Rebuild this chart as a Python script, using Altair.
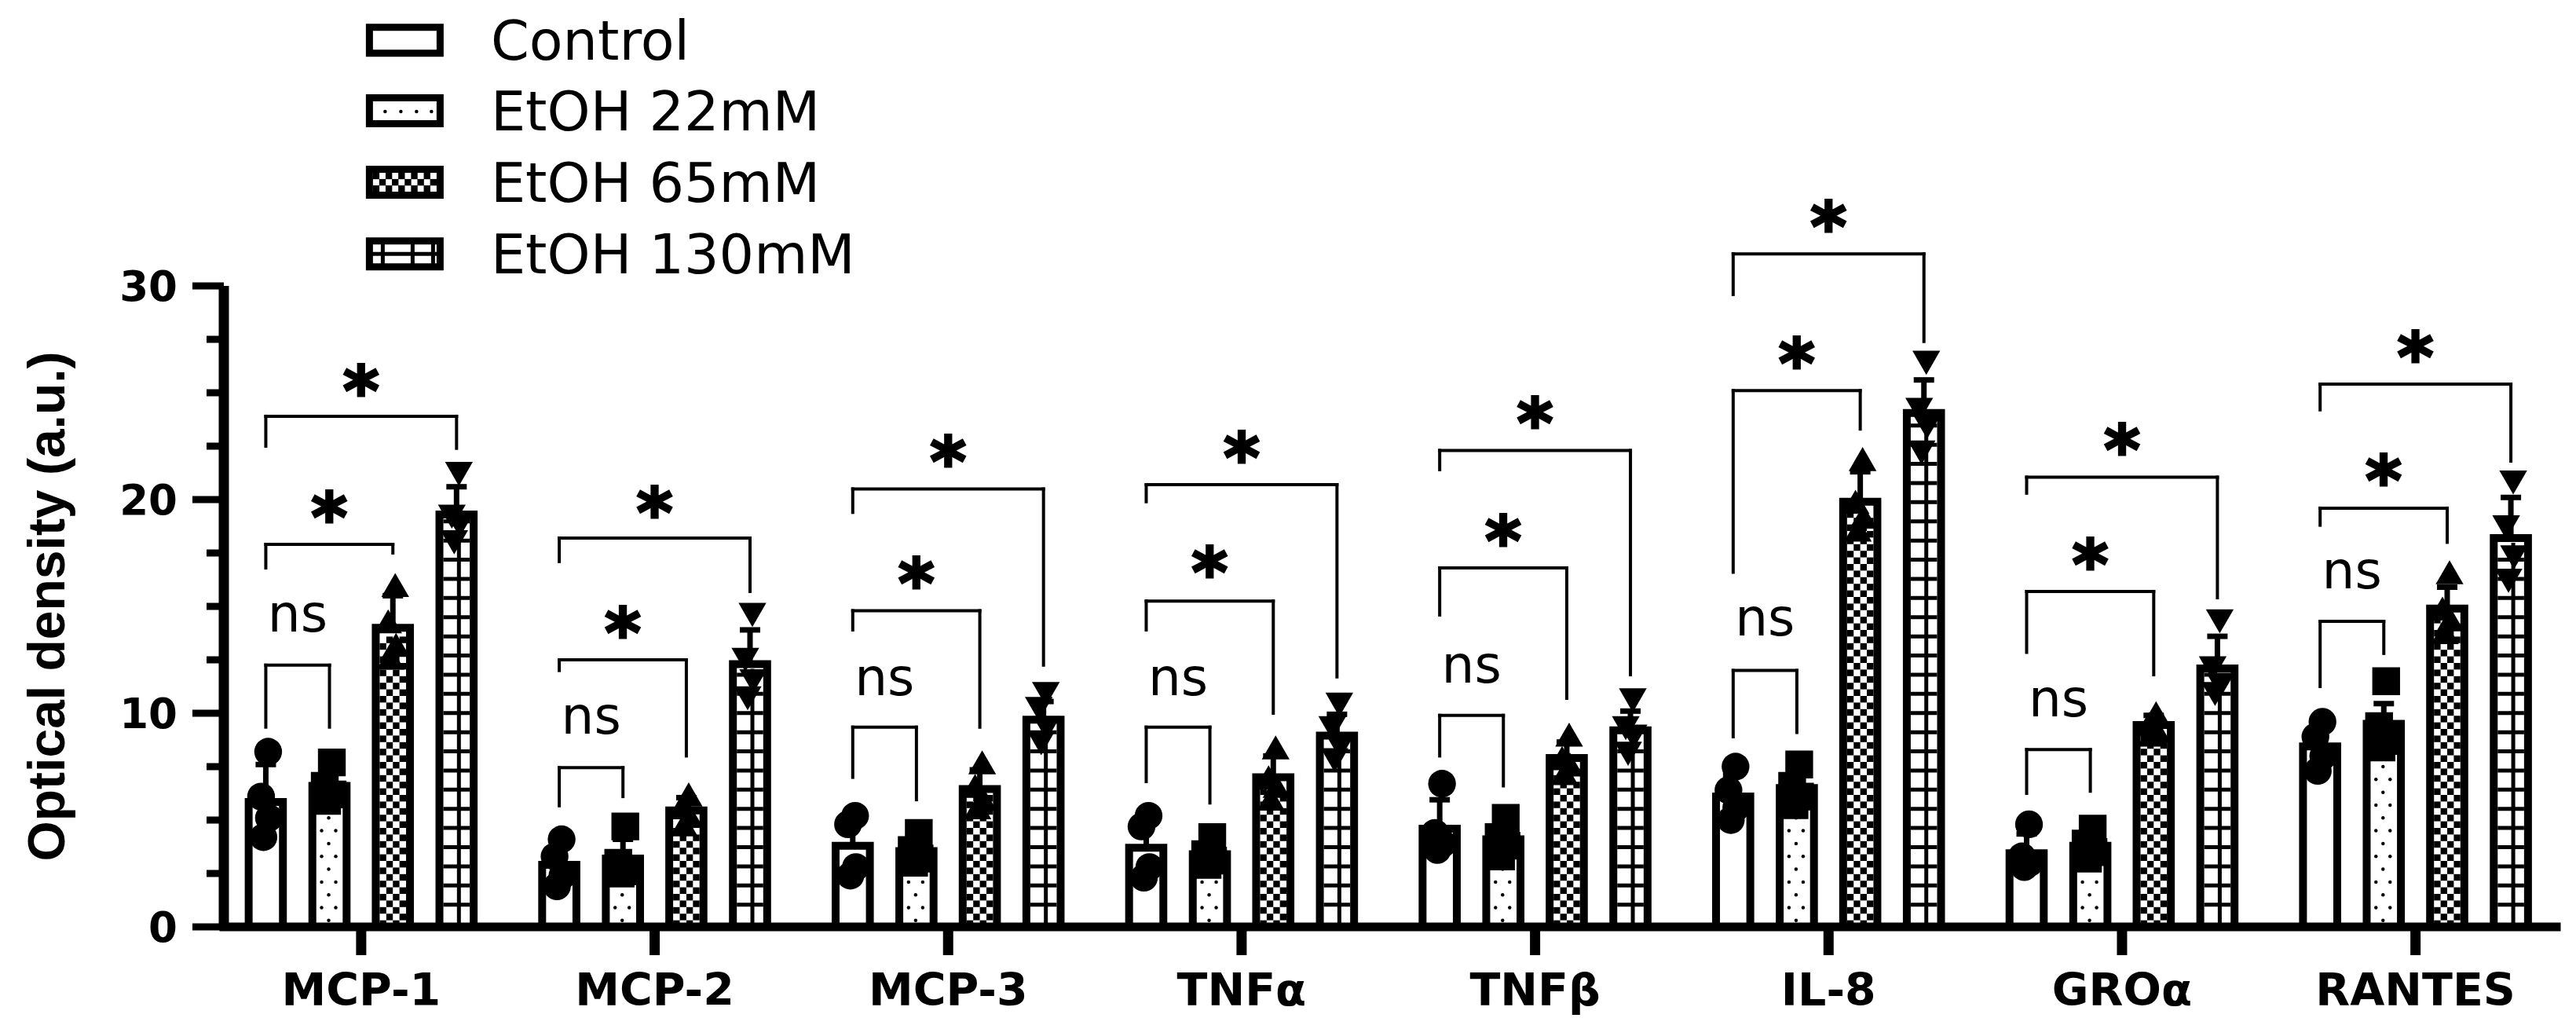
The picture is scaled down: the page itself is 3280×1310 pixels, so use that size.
import altair as alt
import pandas as pd

# ---------------- data ----------------
CYTOKINES = ["MCP-1", "MCP-2", "MCP-3", "TNFα", "TNFβ", "IL-8", "GROα", "RANTES"]
GROUPS = ["Control", "EtOH 22mM", "EtOH 65mM", "EtOH 130mM"]

MEAN_CONTROL = [5.85, 2.9, 3.8, 3.7, 4.6, 6.1, 3.45, 8.45]
MEAN_22 = [6.6, 3.2, 3.55, 3.4, 4.1, 6.5, 3.8, 9.5]
MEAN_65 = [14.0, 5.45, 6.45, 7.0, 7.9, 19.9, 9.45, 14.9]
MEAN_130 = [19.3, 12.3, 9.7, 8.95, 9.2, 24.05, 12.1, 18.2]

SD_CONTROL = [1.75, 1.0, 1.3, 1.3, 1.35, 1.0, 0.9, 0.95]
SD_22 = [0.75, 0.9, 0.6, 0.6, 0.8, 1.0, 0.6, 0.95]
SD_65 = [1.5, 0.6, 0.9, 1.0, 0.75, 1.4, 0.45, 1.0]
SD_130 = [1.3, 1.6, 0.85, 1.0, 0.9, 1.55, 1.5, 1.9]

PTS_CONTROL = [[8.2, 6.1, 5.1, 4.2], [4.1, 3.3, 2.4, 1.9], [5.2, 4.8, 2.8, 2.4], [5.2, 4.7, 2.8, 2.3],
               [6.7, 4.4, 3.9, 3.6], [7.5, 6.4, 5.6, 5.0], [4.8, 3.3, 3.0, 2.8], [9.6, 8.9, 8.0, 7.3]]
PTS_22 = [[7.7, 6.6, 6.2, 5.9], [4.7, 3.0, 2.6, 2.5], [4.4, 3.6, 3.2, 3.0], [4.2, 3.4, 3.1, 2.9],
          [5.1, 4.2, 3.8, 3.3], [7.6, 6.6, 6.1, 5.7], [4.6, 3.9, 3.5, 3.2], [11.5, 9.4, 8.7, 8.4]]
PTS_65 = [[16.0, 14.3, 13.2, 12.6], [6.2, 5.6, 5.2, 4.8], [7.7, 6.6, 6.0, 5.6], [8.4, 7.0, 6.6, 6.0],
          [9.0, 7.9, 7.6, 7.2], [21.9, 19.9, 19.2, 18.6], [10.0, 9.5, 9.2, 9.0], [16.6, 14.9, 14.4, 13.8]]
PTS_130 = [[21.2, 19.2, 18.8, 18.0], [14.6, 12.5, 11.5, 10.7], [10.9, 10.2, 9.3, 8.6], [10.4, 9.3, 8.4, 7.8],
           [10.6, 9.3, 8.9, 8.1], [26.4, 24.2, 23.4, 22.2], [14.3, 12.1, 11.3, 10.9], [20.8, 18.7, 17.3, 16.2]]

# significance brackets: Control vs 22mM / 65mM / 130mM
BR22_Y = [12.25, 7.45, 9.35, 9.35, 9.9, 12.0, 8.3, 14.3]
BR22_LEFT = [9.35, 5.67, 7.0, 6.8, 8.0, 8.9, 6.25, 11.25]
BR22_RIGHT = [9.35, 6.1, 5.95, 5.8, 6.6, 9.1, 6.35, 12.8]
BR22_LABEL_Y = [14.5, 9.7, 11.5, 11.5, 12.1, 14.3, 10.5, 16.5]
BR22_TEXT = ["ns", "ns", "ns", "ns", "ns", "ns", "ns", "ns"]

BR65_Y = [17.9, 12.5, 14.8, 15.25, 16.8, 25.1, 15.7, 19.6]
BR65_LEFT = [16.8, 12.0, 13.9, 13.9, 14.6, 16.6, 12.85, 18.8]
BR65_RIGHT = [17.5, 8.0, 9.35, 10.0, 10.7, 23.3, 11.8, 18.0]
BR65_LABEL_Y = [19.9, 14.5, 16.8, 17.3, 18.8, 27.1, 17.7, 21.6]
BR65_TEXT = ["*", "*", "*", "*", "*", "*", "*", "*"]

BR130_Y = [23.9, 18.2, 20.5, 20.7, 22.3, 31.5, 21.05, 25.4]
BR130_LEFT = [22.5, 17.1, 19.4, 19.9, 21.4, 29.6, 20.3, 24.2]
BR130_RIGHT = [22.4, 15.7, 12.25, 11.7, 11.8, 27.4, 15.4, 21.8]
BR130_LABEL_Y = [25.8, 20.1, 22.5, 22.7, 24.3, 33.5, 23.05, 27.4]
BR130_TEXT = ["*", "*", "*", "*", "*", "*", "*", "*"]

Y_TICKS = [0, 10, 20, 30]
Y_TICK_LABELS = ["0", "10", "20", "30"]
Y_MINOR = [2.5, 5, 7.5, 12.5, 15, 17.5, 22.5, 25, 27.5]
Y_TITLE = "Optical density (a.u.)"

# ---------------- layout / style ----------------
W, H = 2970, 816
X_DOM = [-0.468, 7.48]
Y_DOM = [0, 30]
PX_X = W / (X_DOM[1] - X_DOM[0])
PX_Y = H / (Y_DOM[1] - Y_DOM[0])


def ux(px):
    return px / PX_X


def uy(px):
    return px / PX_Y


BAR_OFFSETS = [-0.325, -0.108, 0.108, 0.325]
BAR_HALF = ux(21.8)
CAP_HALF = ux(13)
JITTER_PX = [3, -6, 4, -3]
SHAPES = ["circle", "square", "triangle-up", "triangle-down"]

# legend placement (data units of the same scales)
LEG_CX = ux(515.5 - 460)
LEG_HALF_W = ux(45)
LEG_HALF_H = uy(16.5)
LEG_ROW_Y = [41.5, 38.2, 34.85, 31.5]
LEG_TEXT_X = ux(625 - 460)

MEANS = [MEAN_CONTROL, MEAN_22, MEAN_65, MEAN_130]
SDS = [SD_CONTROL, SD_22, SD_65, SD_130]
PTS = [PTS_CONTROL, PTS_22, PTS_65, PTS_130]

# ---------------- tables ----------------
bar_rows, pt_rows, dot_rows, chk_rows, grid_rows = [], [], [], [], []
for k, cyt in enumerate(CYTOKINES):
    for g, grp in enumerate(GROUPS):
        cx = k + BAR_OFFSETS[g]
        m = MEANS[g][k]
        s = SDS[g][k]
        bar_rows.append(dict(cyt=cyt, grp=grp, cx=cx, x1=cx - BAR_HALF, x2=cx + BAR_HALF,
                             base=0.0, mean=m, top=m + s, c1=cx - CAP_HALF, c2=cx + CAP_HALF))
        for i, v in enumerate(PTS[g][k]):
            pt_rows.append(dict(grp=grp, x=cx + ux(JITTER_PX[i]), y=v))
        inner_top = m - uy(6)
        if g == 1:  # dotted
            r = 0
            while 0.3 + 0.6 * r < inner_top:
                offs = [-1] if r % 2 == 0 else [-10, 8]
                for o in offs:
                    dot_rows.append(dict(x=cx + ux(o), y=0.3 + 0.6 * r))
                r += 1
        elif g == 2:  # checker
            step = uy(8.4)
            r = 0
            while (r + 1) * step < inner_top:
                for c in range(4):
                    if (r + c) % 2 == 0:
                        chk_rows.append(dict(x=cx + ux((c - 1.5) * 8.4), y=(r + 0.5) * step))
                r += 1
        elif g == 3:  # grid
            r = 0
            while 1.04 + 0.897 * r < inner_top:
                yy = 1.04 + 0.897 * r
                grid_rows.append(dict(x=cx - ux(16.8), x2=cx + ux(16.8), y=yy, y2=yy))
                r += 1
            grid_rows.append(dict(x=cx + ux(3), x2=cx + ux(3), y=0.0, y2=inner_top))

# legend boxes and their patterns
leg_rows = []
for g, grp in enumerate(GROUPS):
    yc = LEG_ROW_Y[g]
    leg_rows.append(dict(grp=grp, x1=LEG_CX - LEG_HALF_W, x2=LEG_CX + LEG_HALF_W,
                         y1=yc - LEG_HALF_H, y2=yc + LEG_HALF_H, tx=LEG_TEXT_X, ty=yc))
    if g == 1:
        for o in [-25, -5, 15, 34]:
            dot_rows.append(dict(x=LEG_CX + ux(o), y=yc - uy(1)))
    elif g == 2:
        for r in range(3):
            for c in range(10):
                if (r + c) % 2 == 0:
                    chk_rows.append(dict(x=LEG_CX + ux((c - 4.5) * 8.1), y=yc + uy((r - 1) * 8.1)))
    elif g == 3:
        for o in [-28, 10, 36]:
            grid_rows.append(dict(x=LEG_CX + ux(o), x2=LEG_CX + ux(o),
                                  y=yc - LEG_HALF_H, y2=yc + LEG_HALF_H))
        grid_rows.append(dict(x=LEG_CX - LEG_HALF_W, x2=LEG_CX + LEG_HALF_W, y=yc, y2=yc))

bars_df = pd.DataFrame(bar_rows)
pts_df = pd.DataFrame(pt_rows)
dots_df = pd.DataFrame(dot_rows)
chk_df = pd.DataFrame(chk_rows)
grid_df = pd.DataFrame(grid_rows)
leg_df = pd.DataFrame(leg_rows)

seg_rows, lab_rows = [], []
BRACKETS = [
    (1, BR22_Y, BR22_LEFT, BR22_RIGHT, BR22_LABEL_Y, BR22_TEXT),
    (2, BR65_Y, BR65_LEFT, BR65_RIGHT, BR65_LABEL_Y, BR65_TEXT),
    (3, BR130_Y, BR130_LEFT, BR130_RIGHT, BR130_LABEL_Y, BR130_TEXT),
]
for gi, by, bl, br, ly, tx in BRACKETS:
    for k in range(len(CYTOKINES)):
        xl = k + BAR_OFFSETS[0]
        xr = k + BAR_OFFSETS[gi]
        seg_rows.append(dict(x=xl, x2=xr, y=by[k], y2=by[k]))
        seg_rows.append(dict(x=xl, x2=xl, y=bl[k], y2=by[k]))
        seg_rows.append(dict(x=xr, x2=xr, y=br[k], y2=by[k]))
        lab_rows.append(dict(x=(xl + xr) / 2, y=ly[k], t=tx[k]))
seg_df = pd.DataFrame(seg_rows)
lab_df = pd.DataFrame(lab_rows)
ns_df = lab_df[lab_df.t == "ns"]
star_df = lab_df[lab_df.t == "*"]

# axis tables
xcat_df = pd.DataFrame({"k": list(range(len(CYTOKINES))), "label": CYTOKINES})
ymaj_df = pd.DataFrame({"v": Y_TICKS, "label": Y_TICK_LABELS})
ymin_df = pd.DataFrame({"v": Y_MINOR})
xdom_df = pd.DataFrame({"x": [X_DOM[0]], "x2": [X_DOM[1]], "y": [Y_DOM[0]]})
ydom_df = pd.DataFrame({"x": [X_DOM[0]], "y": [Y_DOM[0]], "y2": [Y_DOM[1]]})
ytitle_df = pd.DataFrame({"t": [Y_TITLE]})

# ---------------- scales ----------------
xs = alt.Scale(domain=X_DOM, nice=False, zero=False)
ys = alt.Scale(domain=Y_DOM, nice=False, zero=False)


def X(f):
    return alt.X(f, type="quantitative", scale=xs, axis=None)


def Y(f):
    return alt.Y(f, type="quantitative", scale=ys, axis=None)


bars = alt.Chart(bars_df).mark_rect(fill="white", stroke="black", strokeWidth=10, strokeJoin="miter").encode(
    x=X("x1"), x2="x2", y=Y("base"), y2="mean")

leg_boxes = alt.Chart(leg_df).mark_rect(fill="white", stroke="black", strokeWidth=9, strokeJoin="miter").encode(
    x=X("x1"), x2="x2", y=Y("y1"), y2="y2")

dots = alt.Chart(dots_df).mark_circle(size=20, color="black", opacity=1).encode(x=X("x"), y=Y("y"))
checker = alt.Chart(chk_df).mark_square(size=70, color="black", opacity=1).encode(x=X("x"), y=Y("y"))
grid = alt.Chart(grid_df).mark_rule(color="black", strokeWidth=5).encode(x=X("x"), x2="x2", y=Y("y"), y2="y2")

err = alt.Chart(bars_df).mark_rule(color="black", strokeWidth=7).encode(x=X("cx"), y=Y("mean"), y2="top")
caps = alt.Chart(bars_df).mark_rule(color="black", strokeWidth=7).encode(x=X("c1"), x2="c2", y=Y("top"))

points = alt.Chart(pts_df).mark_point(filled=True, opacity=1, size=1250, color="black", strokeWidth=0).encode(
    x=X("x"), y=Y("y"),
    shape=alt.Shape("grp:N", scale=alt.Scale(domain=GROUPS, range=SHAPES), legend=None))

segs = alt.Chart(seg_df).mark_rule(color="black", strokeWidth=4, strokeCap="square").encode(
    x=X("x"), x2="x2", y=Y("y"), y2="y2")

ns_text = alt.Chart(ns_df).mark_text(font="DejaVu Sans", fontSize=66, color="black", align="center",
                                      baseline="alphabetic", dy=18).encode(x=X("x"), y=Y("y"), text="t:N")
star_text = alt.Chart(star_df).mark_text(font="DejaVu Sans", fontWeight="bold", fontSize=88, color="black",
                                          stroke="black", strokeWidth=3,
                                          align="center", baseline="alphabetic", dy=50).encode(
    x=X("x"), y=Y("y"), text="t:N")

leg_text = alt.Chart(leg_df).mark_text(font="DejaVu Sans", fontSize=70, color="black", align="left",
                                        baseline="alphabetic", dy=25).encode(x=X("tx"), y=Y("ty"), text="grp:N")

# ---- axes drawn as marks through the same scales ----
x_domain = alt.Chart(xdom_df).mark_rule(color="black", strokeWidth=11, strokeCap="square").encode(
    x=X("x"), x2="x2", y=Y("y"))
y_domain = alt.Chart(ydom_df).mark_rule(color="black", strokeWidth=13).encode(
    x=X("x"), y=Y("y"), y2="y2")
y_major = alt.Chart(ymaj_df).mark_rule(color="black", strokeWidth=9).encode(
    y=Y("v"), x=alt.value(-40), x2=alt.value(0))
y_minor = alt.Chart(ymin_df).mark_rule(color="black", strokeWidth=9).encode(
    y=Y("v"), x=alt.value(-22), x2=alt.value(0))
y_labels = alt.Chart(ymaj_df).mark_text(font="DejaVu Sans", fontWeight="bold", fontSize=53, color="black",
                                         align="right", baseline="alphabetic", dy=19).encode(
    y=Y("v"), x=alt.value(-59), text="label:N")
x_ticks = alt.Chart(xcat_df).mark_rule(color="black", strokeWidth=13).encode(
    x=X("k"), y=alt.value(H), y2=alt.value(H + 36))
x_labels = alt.Chart(xcat_df).mark_text(font="DejaVu Sans", fontWeight="bold", fontSize=57, color="black",
                                         align="center", baseline="alphabetic").encode(
    x=X("k"), y=alt.value(H + 100), text="label:N")
y_title = alt.Chart(ytitle_df).mark_text(font="Liberation Sans", fontWeight="bold", fontSize=66, color="black",
                                          angle=270, align="center", baseline="alphabetic").encode(
    x=alt.value(-203), y=alt.value(H / 2), text="t:N")

chart = alt.layer(
    bars, leg_boxes, dots, checker, grid, err, caps, points, segs, ns_text, star_text, leg_text,
    x_domain, y_domain, y_major, y_minor, y_labels, x_ticks, x_labels, y_title
).properties(
    width=W, height=H,
    autosize=alt.AutoSizeParams(type="none"),
    padding={"left": 277, "top": 356, "right": 10, "bottom": 122},
).configure_view(stroke=None)

chart.save("out.html", embed_options={"renderer": "svg", "actions": False})
